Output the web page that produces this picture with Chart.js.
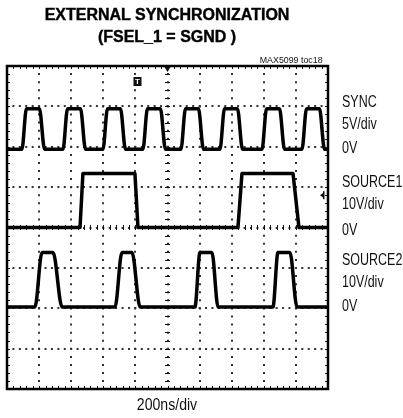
<!DOCTYPE html>
<html>
<head>
<meta charset="utf-8">
<script src="https://cdn.jsdelivr.net/npm/chart.js@4/dist/chart.umd.min.js"></script>
<style>
  body { margin: 0; background: #fff; }
  #wrap { position: relative; width: 403px; height: 418px; overflow: hidden; }
  #wrap canvas { position: absolute; left: 0; top: 0; }
  .txt { position: absolute; color: #111; white-space: nowrap; font-family: "Liberation Sans", Arial, sans-serif; }
  #title { left: 0; width: 334px; top: 4px; text-align: center; font: bold 16px/21.5px "Liberation Sans", Arial, sans-serif; -webkit-text-stroke: 0.4px #000; color: #000; }
  #tag { right: 80px; top: 54px; font-size: 9.5px; line-height: 12px; transform: scaleX(0.93); transform-origin: right center; }
  .lab { left: 342px; font-size: 16px; line-height: 16px; transform: scaleX(0.78); transform-origin: left center; }
  #xlab { left: 0; width: 334px; text-align: center; top: 397px; font-size: 16px; line-height: 16px; transform: scaleX(0.88); transform-origin: 167px center; }
</style>
</head>
<body>
<div id="wrap">
  <canvas id="myChart" width="403" height="418"></canvas>
  <div class="txt" id="title">EXTERNAL SYNCHRONIZATION<br>(FSEL_1 = SGND )</div>
  <div class="txt" id="tag">MAX5099 toc18</div>
  <div class="txt lab" style="top:94px">SYNC</div>
  <div class="txt lab" style="top:116px">5V/div</div>
  <div class="txt lab" style="top:140px">0V</div>
  <div class="txt lab" style="top:174px">SOURCE1</div>
  <div class="txt lab" style="top:196px">10V/div</div>
  <div class="txt lab" style="top:222px">0V</div>
  <div class="txt lab" style="top:252px">SOURCE2</div>
  <div class="txt lab" style="top:274px">10V/div</div>
  <div class="txt lab" style="top:298px">0V</div>
  <div class="txt" id="xlab">200ns/div</div>
</div>
<script>
// time in ns (10 div x 200ns), levels in volts
const syncTime = [0, 93, 121, 202, 234, 349, 377, 458, 489, 598, 626, 707, 738, 847, 875, 956, 987,
  1084, 1112, 1193, 1224, 1327, 1355, 1436, 1467, 1589, 1617, 1698, 1729, 1838, 1866, 1947, 1978, 2000]
const syncVolts = [0, 0, 5, 5, 0, 0, 5, 5, 0, 0, 5, 5, 0, 0, 5, 5, 0,
  0, 5, 5, 0, 0, 5, 5, 0, 0, 5, 5, 0, 0, 5, 5, 0, 0]

const src1Time = [0, 455, 473, 797, 816, 1439, 1464, 1782, 1819, 2000]
const src1Volts = [0, 0, 13.4, 13.4, 0, 0, 13.4, 13.4, 0, 0]

const src2Time = [0, 174, 218, 287, 343, 673, 716, 779, 829, 1171, 1202, 1277, 1315, 1657, 1688, 1763, 1807, 2000]
const src2Volts = [0, 0, 13.5, 13.5, 0, 0, 13.5, 13.5, 0, 0, 13.5, 13.5, 0, 0, 13.5, 13.5, 0, 0]

const timeStep = 200      // ns/div
const minorTime = 40
const minorDiv = 0.2
const triggerTime = 813
const triggerLevel = 8     // volts on SOURCE1

function pts(t, v) {
    return t.map((x, i) => ({x: x, y: v[i]}))
}

const scopeDecor = {
    id: 'scopeDecor',
    afterDraw(chart) {
        const ctx = chart.ctx
        const a = chart.chartArea
        const xs = chart.scales.x
        const yg = chart.scales.yg
        const cx = xs.getPixelForValue(1000)
        const cy = yg.getPixelForValue(0)
        ctx.save()
        ctx.strokeStyle = '#111'
        ctx.lineWidth = 1
        ctx.beginPath()
        for (let t = 0; t <= 2000; t += minorTime) {
            const px = Math.round(xs.getPixelForValue(t)) + 0.5
            ctx.moveTo(px, a.top); ctx.lineTo(px, a.top + 3)
            ctx.moveTo(px, a.bottom); ctx.lineTo(px, a.bottom - 3)
            ctx.moveTo(px, cy - 2.5); ctx.lineTo(px, cy + 2.5)
        }
        for (let v = -4; v <= 4.001; v += minorDiv) {
            const py = Math.round(yg.getPixelForValue(v)) + 0.5
            ctx.moveTo(a.left, py); ctx.lineTo(a.left + 3, py)
            ctx.moveTo(a.right, py); ctx.lineTo(a.right - 3, py)
            ctx.moveTo(cx - 2.5, py); ctx.lineTo(cx + 2.5, py)
        }
        ctx.stroke()

        // frame
        ctx.lineWidth = 2.5
        ctx.strokeStyle = '#000'
        ctx.strokeRect(a.left, a.top, a.right - a.left, a.bottom - a.top)

        // trigger position marker
        const tx = xs.getPixelForValue(triggerTime)
        ctx.fillStyle = '#111'
        ctx.fillRect(tx - 4, a.top + 11, 8, 9)
        ctx.fillStyle = '#fff'
        ctx.font = 'bold 8px "Liberation Sans", sans-serif'
        ctx.textAlign = 'center'
        ctx.textBaseline = 'middle'
        ctx.fillText('T', tx, a.top + 15.5)

        // center top marker
        ctx.fillStyle = '#111'
        ctx.beginPath()
        ctx.moveTo(cx - 3, a.top + 1); ctx.lineTo(cx + 3, a.top + 1); ctx.lineTo(cx, a.top + 6)
        ctx.fill()

        // trigger level marker
        const ty = chart.scales.ys1.getPixelForValue(triggerLevel)
        ctx.beginPath()
        ctx.moveTo(a.right - 8, ty); ctx.lineTo(a.right - 4, ty - 3); ctx.lineTo(a.right - 4, ty + 3)
        ctx.fill()
        ctx.fillRect(a.right - 5, ty - 4, 1.5, 8)
        ctx.restore()
    }
}

const ctx = document.getElementById('myChart').getContext('2d')
window.scope = new Chart(ctx, {
    type: 'line',
    data: {
        datasets: [{
            label: 'SYNC',
            data: pts(syncTime, syncVolts),
            yAxisID: 'ysync',
            borderColor: '#000',
            borderWidth: 3.5,
            cubicInterpolationMode: 'monotone'
        }, {
            label: 'SOURCE1',
            data: pts(src1Time, src1Volts),
            yAxisID: 'ys1',
            borderColor: '#000',
            borderWidth: 3.5,
            tension: 0
        }, {
            label: 'SOURCE2',
            data: pts(src2Time, src2Volts),
            yAxisID: 'ys2',
            borderColor: '#000',
            borderWidth: 3.5,
            cubicInterpolationMode: 'monotone'
        }]
    },
    options: {
        responsive: false,
        animation: false,
        devicePixelRatio: 1,
        layout: {padding: {left: 7, top: 66, right: 75, bottom: 29}},
        elements: {point: {radius: 0}, line: {borderJoinStyle: 'round'}},
        plugins: {legend: {display: false}, tooltip: {enabled: false}},
        scales: {
            x: {
                type: 'linear', min: 0, max: 2000,
                ticks: {display: false, stepSize: timeStep},
                grid: {color: '#333', lineWidth: 2, drawTicks: false},
                border: {display: false, dash: [2, 6.08], dashOffset: 1}
            },
            yg: {
                type: 'linear', position: 'left', min: -4, max: 4,
                ticks: {display: false, stepSize: 1},
                grid: {color: '#333', lineWidth: 2, drawTicks: false},
                border: {display: false, dash: [2, 4.42], dashOffset: 1}
            },
            ysync: {type: 'linear', display: false, min: -29.7, max: 10.3},
            ys1: {type: 'linear', display: false, min: -40, max: 40},
            ys2: {type: 'linear', display: false, min: -20.3, max: 59.7}
        }
    },
    plugins: [scopeDecor]
})
</script>
</body>
</html>
